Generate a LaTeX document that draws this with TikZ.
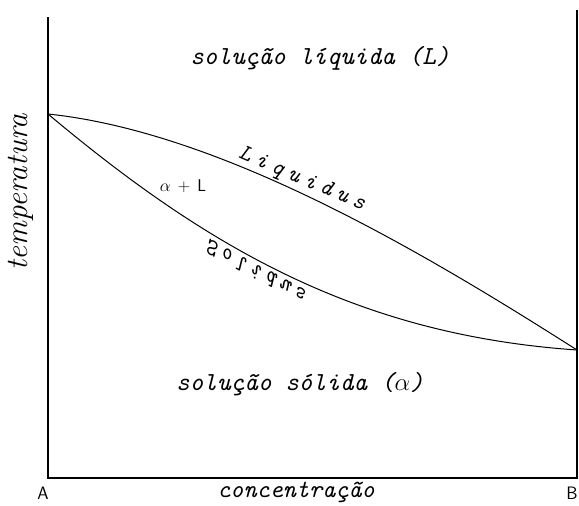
\documentclass[tikz,border=0pt]{standalone}
\usepackage{fontspec}
\begin{document}
\begin{tikzpicture}[x=1pt,y=-1pt,
  axis/.style={line width=1.1pt},
  curve/.style={line width=1pt},
  lbl/.style={font=\fontsize{26}{30}\selectfont\ttfamily\itshape, inner sep=0pt},
  curvelbl/.style={font=\fontsize{23}{26}\selectfont\ttfamily\itshape, inner sep=0pt},
  ab/.style={font=\fontsize{18}{22}\selectfont\sffamily, inner sep=0pt},
]
\useasboundingbox (0,0) rectangle (579,506);
% axes
\coordinate (top) at (48,17);
\coordinate (O) at (48,478);
\coordinate (E) at (577,478);
\coordinate (Rtop) at (577,10);
\draw[axis] (top) -- (O) -- (E) -- (Rtop);
% end points of curves
\coordinate (TA) at (48,114);
\coordinate (TB) at (577,350);
% liquidus
\draw[curve] (TA) .. controls (220,132) and (420,250) .. (TB);
% solidus
\draw[curve] (TA) .. controls (210,250) and (360,335) .. (TB);
% labels
\node[lbl] (liq) at (320,58) {solução líquida (L)};
\node[lbl] (sol) at (300,384) {solução sólida ($\alpha$)};
\node[lbl, font=\fontsize{25}{30}\selectfont\ttfamily\itshape] (conc) at (296,492) {concentração};
\node[font=\fontsize{31}{34}\selectfont\rmfamily\itshape, rotate=90, inner sep=0pt] (temp) at (21,192) {temperatura};
\node[ab] (A) at (43,493) {A};
\node[ab] (B) at (572,493) {B};
\node[font=\fontsize{17}{20}\selectfont, inner sep=0pt] (alphaL) at (183,186) {$\alpha$\kern2pt{} + \kern2pt\textsf{L}};
\node[curvelbl, anchor=base, rotate=-23] (liqlbl) at (300,184) {L\kern5.5pt i\kern5.5pt q\kern5.5pt u\kern5.5pt i\kern5.5pt d\kern5.5pt u\kern5.5pt s};
\node[curvelbl, anchor=base, rotate=-28, yscale=-1] (sollbl) at (258,265) {S\kern4.5pt o\kern4.5pt l\kern4.5pt i\kern4.5pt d\kern4.5pt u\kern4.5pt s};
\end{tikzpicture}
\end{document}
